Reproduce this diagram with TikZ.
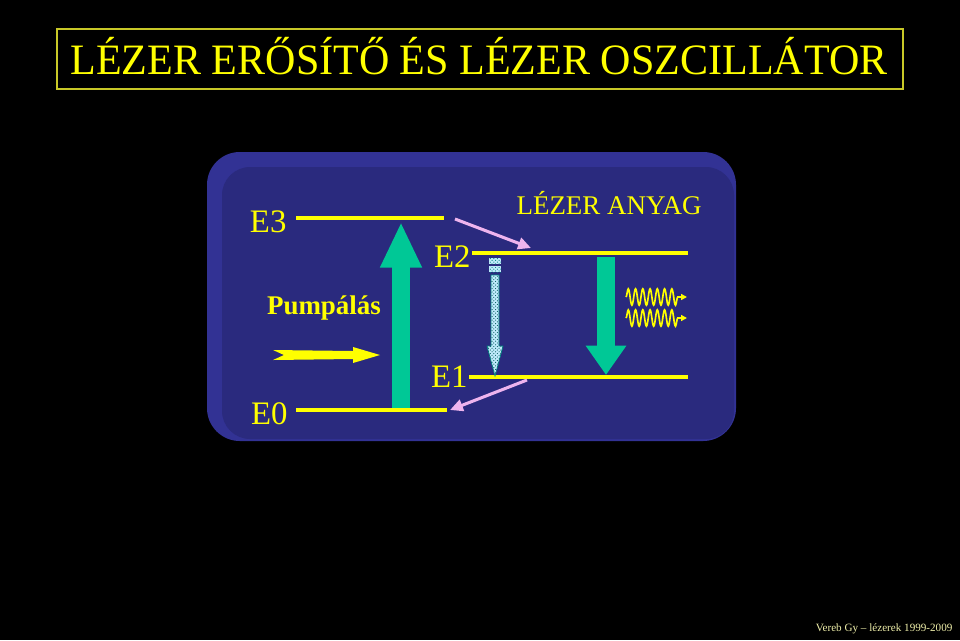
\documentclass[tikz,border=0pt]{standalone}
\usepackage{fontspec}
\setmainfont{Liberation Serif}
\usepackage{tikz}
\usetikzlibrary{arrows.meta,positioning,calc,patterns,decorations.pathmorphing}
\definecolor{slidebg}{RGB}{0,0,0}
\definecolor{titleyel}{RGB}{255,255,0}
\definecolor{frameyel}{RGB}{200,200,40}
\definecolor{boxrim}{RGB}{50,50,148}
\definecolor{boxblue}{RGB}{42,42,126}
\definecolor{pumpgreen}{RGB}{0,200,150}
\definecolor{decaypink}{RGB}{238,180,238}
\definecolor{footyel}{RGB}{240,240,170}

\begin{document}
\begin{tikzpicture}[
  x=0.03cm, y=-0.03cm,
  lbl/.style={text=titleyel, font=\fontsize{28}{28}\selectfont, inner sep=1pt},
  level/.style={titleyel, line width=3.2pt},
  fatarr/.style={pumpgreen, line width=16pt, -{Triangle[length=#1, width=33pt]}},
  decay/.style={decaypink, line width=2.6pt, -{Triangle[length=11pt, width=10pt]}},
  photon/.style={titleyel, line width=1.4pt, -{Triangle[length=5pt, width=5pt]},
    decorate, decoration={snake, segment length=6.2pt, amplitude=7pt, post length=7pt}},
  every node/.style={inner sep=2pt}
]
\useasboundingbox[fill=slidebg] (0,0) rectangle (960,640);

% Title
\draw[frameyel, line width=1.2pt] (57,29) rectangle (903,89);
\node[text=titleyel, font=\fontsize{37}{37}\selectfont, xscale=0.97, anchor=base] (title) at (479,74) {LÉZER ERŐSÍTŐ ÉS LÉZER OSZCILLÁTOR};

% Blue box
\fill[boxrim, rounded corners=28] (207,152) rectangle (736,441);
\fill[boxblue, rounded corners=24] (222,167) rectangle (734,439);
\node[lbl, font=\fontsize{23}{23}\selectfont] (anyag) at (609,203) {LÉZER ANYAG};

% Energy levels
\coordinate (e3l) at (296,218); \coordinate (e3r) at (444,218);
\coordinate (e2l) at (472,253); \coordinate (e2r) at (688,253);
\coordinate (e1l) at (469,377); \coordinate (e1r) at (688,377);
\coordinate (e0l) at (296,410); \coordinate (e0r) at (447,410);
\draw[level] (e3l) -- (e3r);
\draw[level] (e2l) -- (e2r);
\draw[level] (e1l) -- (e1r);
\draw[level] (e0l) -- (e0r);
\node[lbl, left=7pt of e3l, yshift=-3pt] (lblE3) {E3};
\node[lbl, left=0pt of e2l, yshift=-3pt] (lblE2) {E2};
\node[lbl, left=0pt of e1l] (lblE1) {E1};
\node[lbl, left=6pt of e0l, yshift=-3pt] (lblE0) {E0};

% Pumping
\coordinate (pumpbot) at (401,408);
\coordinate (pumptop) at (401,222);
\draw[fatarr=39pt] (pumpbot) -- (pumptop);
\node[text=titleyel, font=\bfseries\fontsize{23}{23}\selectfont] (pump) at (324,308) {Pumpálás};
\fill[titleyel, shift={(0,355)}] (273,-5) -- (353,-4) -- (353,-8) -- (380,0) -- (353,8) -- (353,4) -- (273,5) -- (284,0) -- cycle;

% Nonradiative decays
\coordinate (d32a) at (455,219); \coordinate (d32b) at (531,248);
\coordinate (d10a) at (527,380); \coordinate (d10b) at (450,410);
\draw[decay] (d32a) -- (d32b);
\draw[decay] (d10a) -- (d10b);

% Spontaneous decay E2 -> E1
\coordinate (spt) at (495,275);
\coordinate (spb) at (495,376);
\fill[cyan!25!white] (489,258) rectangle (501,264);
\fill[cyan!25!white] (489,266) rectangle (501,272);
\fill[pattern=crosshatch dots, pattern color=teal] (489,258) rectangle (501,264);
\fill[pattern=crosshatch dots, pattern color=teal] (489,266) rectangle (501,272);
\filldraw[fill=cyan!25!white, draw=teal, line width=0.6pt]
  ($(spt)+(-4,0)$) -- ($(spb)+(-4,-30)$) -- ($(spb)+(-8,-30)$) -- (spb) -- ($(spb)+(8,-30)$) -- ($(spb)+(4,-30)$) -- ($(spt)+(4,0)$) -- cycle;
\fill[pattern=crosshatch dots, pattern color=teal!70!black]
  ($(spt)+(-4,0)$) -- ($(spb)+(-4,-30)$) -- ($(spb)+(-8,-30)$) -- (spb) -- ($(spb)+(8,-30)$) -- ($(spb)+(4,-30)$) -- ($(spt)+(4,0)$) -- cycle;

% Stimulated emission E2 -> E1
\coordinate (stt) at (606,257);
\coordinate (stb) at (606,375);
\draw[fatarr=25pt] (stt) -- (stb);

% Photons
\coordinate (ph1a) at (626,297); \coordinate (ph1b) at (687,297);
\coordinate (ph2a) at (626,318); \coordinate (ph2b) at (687,318);
\draw[photon] (ph1a) -- (ph1b);
\draw[photon] (ph2a) -- (ph2b);

% Footer
\node[text=footyel, font=\fontsize{9.5}{9.5}\selectfont, anchor=east] (foot) at (955,629) {Vereb Gy -- lézerek 1999-2009};
\end{tikzpicture}
\end{document}
